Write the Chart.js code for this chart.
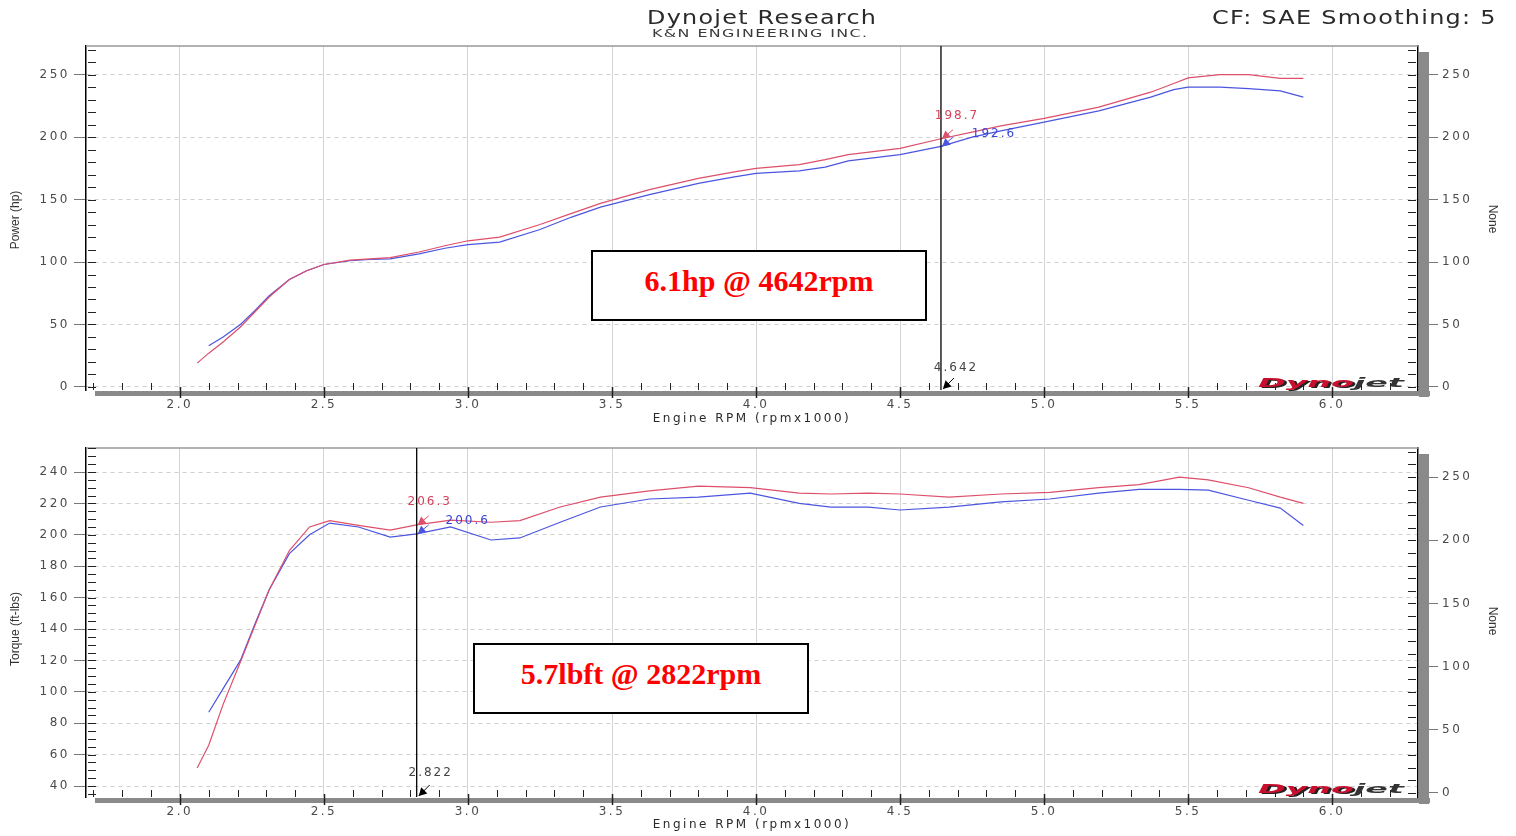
<!DOCTYPE html>
<html>
<head>
<meta charset="utf-8">
<title>Dynojet Research</title>
<script src="https://cdn.jsdelivr.net/npm/chart.js@4.4.1/dist/chart.umd.min.js"></script>
<style>
  body { margin: 0; background: #fff; font-family: "DejaVu Sans", sans-serif; }
  #page { position: relative; width: 1516px; height: 836px; overflow: hidden; background: #fff; }
  canvas { position: absolute; left: 0; }
  .txt { position: absolute; white-space: nowrap; color: #333; transform-origin: 0 50%; }
  .axis-title { position: absolute; white-space: nowrap; font-family: "Liberation Sans Narrow", "Liberation Sans", sans-serif; font-size: 12px; color: #333; transform: translate(-50%, -50%) rotate(-90deg); }
  .axis-title.right { transform: translate(-50%, -50%) rotate(90deg); }
  .diff { position: absolute; box-sizing: border-box; width: 336px; height: 71px; border: 2px solid #000; background: #fff;
          display: flex; align-items: center; justify-content: center; padding-bottom: 9px;
          font-family: "Liberation Serif", serif; font-weight: bold; font-size: 30px; color: #f00; }
  .logo { position: absolute; white-space: nowrap; font: italic bold 12px "DejaVu Sans", sans-serif; line-height: 12px; transform-origin: 0 50%; }
  .logo .a { color: #c8102e; text-shadow: 1px 1px 0 #222; }
  .logo .b { color: #333; }
</style>
</head>
<body>
<div id="page">
  <canvas id="power" width="1516" height="430" style="top:0"></canvas>
  <canvas id="torque" width="1516" height="406" style="top:430px"></canvas>

  <div class="txt" data-w="230" style="left:647px;top:7px;font-size:19px;line-height:20px;letter-spacing:1px;color:#2a2a2a">Dynojet Research</div>
  <div class="txt" data-w="216" style="left:652px;top:27px;font-size:11px;line-height:13px;letter-spacing:1px;color:#3a3a3a">K&amp;N ENGINEERING INC.</div>
  <div class="txt" data-w="285" style="left:1212px;top:7px;font-size:19px;line-height:20px;letter-spacing:1px;color:#2a2a2a">CF: SAE Smoothing: 5</div>

  <div class="axis-title" style="left:15px;top:220px">Power (hp)</div>
  <div class="axis-title right" style="left:1493px;top:219px">None</div>
  <div class="axis-title" style="left:15px;top:629px">Torque (ft-lbs)</div>
  <div class="axis-title right" style="left:1493px;top:621px">None</div>

  <div class="diff" style="left:591px;top:250px">6.1hp @ 4642rpm</div>
  <div class="diff" style="left:473px;top:643px">5.7lbft @ 2822rpm</div>

  <div class="logo" data-w="147" style="left:1258px;top:377px"><span class="a">Dyno</span><span class="b">jet</span></div>
  <div class="logo" data-w="147" style="left:1258px;top:783px"><span class="a">Dyno</span><span class="b">jet</span></div>
</div>

<script>
// tick labels
const rpmTicks = [2.0, 2.5, 3.0, 3.5, 4.0, 4.5, 5.0, 5.5, 6.0];
const powerTicks = [0, 50, 100, 150, 200, 250];
const torqueTicks = [40, 60, 80, 100, 120, 140, 160, 180, 200, 220, 240];
const noneTicks = [0, 50, 100, 150, 200, 250];

// power run (hp)
const powerRpm = [2.06, 2.10, 2.15, 2.21, 2.26, 2.31, 2.38, 2.44, 2.50, 2.59, 2.66, 2.73, 2.83, 2.92, 3.00,
  3.11, 3.25, 3.36, 3.46, 3.63, 3.80, 3.92, 4.00, 4.15, 4.24, 4.32, 4.50, 4.642, 4.75, 4.85, 5.00,
  5.19, 5.37, 5.45, 5.50, 5.61, 5.71, 5.82, 5.90];
const powerRed = [19, 27, 36, 48, 60, 72, 86, 93, 98, 101.5, 102.5, 103.5, 108, 113, 117,
  120, 130, 139, 147, 158, 167, 172, 175, 178, 182, 186, 191, 198.7, 204, 209, 215,
  224, 236, 243, 247.5, 250, 250, 247, 247];
const powerBlue = [null, 33, 40, 50, 61, 73, 86, 93, 98, 101, 102, 102.5, 106.5, 111, 114,
  116, 126, 136, 144, 154, 163, 168, 171, 173, 176, 181, 186, 192.6, 200, 205, 212,
  221, 232, 238, 240, 240, 238.8, 237, 232];

// torque run (ft-lbs)
const torqueRpm = [2.06, 2.10, 2.15, 2.21, 2.26, 2.31, 2.38, 2.45, 2.52, 2.62, 2.73, 2.822, 2.94, 3.08, 3.18,
  3.32, 3.46, 3.63, 3.80, 3.98, 4.15, 4.26, 4.39, 4.50, 4.67, 4.85, 5.02, 5.19, 5.33, 5.47,
  5.57, 5.71, 5.82, 5.90];
const torqueRed = [51.5, 66, 92, 119, 142, 165, 190, 205, 209, 206, 203, 206.3, 209.4, 208, 209,
  217.7, 224, 228, 231, 230, 226.6, 226, 226.6, 226, 224, 226, 227, 230, 232, 236.8,
  235, 230, 224, 220];
const torqueBlue = [null, 87, 102, 120, 143, 165, 188, 200, 207.5, 205, 198.6, 200.6, 205, 196.7, 198,
  208, 217.7, 222.8, 224, 226.6, 220, 217.7, 217.7, 215.8, 217.7, 221, 222.8, 226.6, 229, 229,
  228.5, 222, 217, 206];

const powerCursor = 4.642;
const torqueCursor = 2.822;

const redLine = "#dd4f6b";
const blueLine = "#4b55e0";

Chart.defaults.font.family = '"DejaVu Sans", sans-serif';

function ticksFrom(list) {
  return (scale) => {
    scale.ticks = list.map((value) => ({ value }));
  };
}

function arrow(ctx, x1, y1, x2, y2, color) {
  const ang = Math.atan2(y2 - y1, x2 - x1);
  ctx.strokeStyle = color;
  ctx.fillStyle = color;
  ctx.lineWidth = 1;
  ctx.beginPath();
  ctx.moveTo(x1, y1);
  ctx.lineTo(x2, y2);
  ctx.stroke();
  ctx.beginPath();
  ctx.moveTo(x2, y2);
  ctx.lineTo(x2 - 9 * Math.cos(ang - 0.5), y2 - 9 * Math.sin(ang - 0.5));
  ctx.lineTo(x2 - 9 * Math.cos(ang + 0.5), y2 - 9 * Math.sin(ang + 0.5));
  ctx.closePath();
  ctx.fill();
}

// frame, minor ticks and cursor readout
const dynoDecor = {
  id: "dynoDecor",
  beforeDraw(chart) {
    chart.ctx.letterSpacing = "2.5px";
  },
  afterDatasetsDraw(chart, args, opts) {
    const { ctx, chartArea: a, scales } = chart;
    const x = scales.x, yl = scales.y, yr = scales.y2;
    ctx.save();

    ctx.strokeStyle = "#999";
    ctx.lineWidth = 1.5;
    ctx.beginPath();
    ctx.moveTo(a.left, a.top);
    ctx.lineTo(a.right, a.top);
    ctx.stroke();

    ctx.fillStyle = "#8a8a8a";
    ctx.fillRect(a.left + 9, a.bottom + 1, a.right - a.left + 3, 5);
    ctx.fillRect(a.right + 1, a.top + 6, 10, a.bottom - a.top + 1);

    ctx.strokeStyle = "#222";
    ctx.lineWidth = 1;
    const each = (scale, step, fn) => {
      for (let i = Math.ceil(scale.min / step - 1e-6); i * step <= scale.max + 1e-6; i++) {
        fn(Math.round(scale.getPixelForValue(i * step)) + 0.5, i);
      }
    };
    ctx.beginPath();
    each(yl, opts.leftStep, (py) => { ctx.moveTo(a.left + 2, py); ctx.lineTo(a.left + 10, py); });
    each(yr, opts.rightStep, (py) => { ctx.moveTo(a.right - 10, py); ctx.lineTo(a.right - 2, py); });
    each(x, 0.1, (px, i) => {
      if (i % 5 === 0) return;
      ctx.moveTo(px, a.bottom - 7);
      ctx.lineTo(px, a.bottom);
    });
    ctx.stroke();
    ctx.lineWidth = 1.5;
    ctx.beginPath();
    each(x, 0.5, (px) => { ctx.moveTo(px, a.bottom - 3); ctx.lineTo(px, a.bottom + 8); });
    ctx.stroke();

    // cursor
    const cx = x.getPixelForValue(opts.cursor);
    ctx.strokeStyle = "#000";
    ctx.lineWidth = 1.3;
    ctx.beginPath();
    ctx.moveTo(cx, a.top);
    ctx.lineTo(cx, a.bottom);
    ctx.stroke();

    ctx.font = '12px "DejaVu Sans", sans-serif';
    ctx.letterSpacing = "2px";
    ctx.textAlign = "center";
    ctx.textBaseline = "middle";
    chart.data.datasets.forEach((ds, i) => {
      const pt = ds.data.find((p) => p.x === opts.cursor);
      const py = yl.getPixelForValue(pt.y);
      const [dx, dy] = opts.offsets[i];
      arrow(ctx, cx + 12, py - 9, cx + 1, py, ds.borderColor);
      ctx.fillStyle = opts.textColors[i];
      ctx.fillText(pt.y.toFixed(1), cx + dx, py + dy);
    });
    ctx.fillStyle = "#444";
    ctx.fillText(opts.cursor.toFixed(3), cx + opts.rpmLabel[0], a.bottom + opts.rpmLabel[1]);
    arrow(ctx, cx + 13, a.bottom - 12, cx + 2, a.bottom - 1, "#000");
    ctx.restore();
  },
};

function dynoChart(id, cfg) {
  const series = (vals, color) => ({
    data: cfg.rpm.map((x, i) => ({ x, y: vals[i] })),
    borderColor: color,
    borderWidth: 1.2,
    pointRadius: 0,
    tension: 0,
    fill: false,
  });
  return new Chart(document.getElementById(id), {
    type: "line",
    data: { datasets: [series(cfg.red, redLine), series(cfg.blue, blueLine)] },
    options: {
      responsive: false,
      animation: false,
      events: [],
      layout: { padding: { top: cfg.top, left: 0, right: 0, bottom: 0 } },
      scales: {
        x: {
          type: "linear",
          position: "bottom",
          min: 1.674,
          max: 6.298,
          afterFit: (s) => { s.height = cfg.xHeight; },
          afterBuildTicks: ticksFrom(rpmTicks),
          ticks: { callback: (v) => Number(v).toFixed(1), color: "#4a4a4a", font: { size: 12 }, padding: 8, maxRotation: 0, autoSkip: false },
          grid: { color: "#d4d4d4", drawTicks: false, lineWidth: 1 },
          border: { display: false },
          title: { display: true, text: "Engine RPM (rpmx1000)", color: "#2a2a2a", font: { size: 12 }, padding: { top: 0, bottom: 4 } },
        },
        y: {
          position: "left",
          min: cfg.leftMin,
          max: cfg.leftMax,
          afterFit: (s) => { s.width = 86; },
          afterBuildTicks: ticksFrom(cfg.leftTicks),
          ticks: { color: "#4a4a4a", font: { size: 12 }, padding: 4 },
          grid: { color: "#cfcfcf", tickColor: "#777", tickLength: 12, tickBorderDash: [] },
          border: { color: "#000", width: 1.5, dash: [4, 4] },
        },
        y2: {
          position: "right",
          min: cfg.rightMin,
          max: cfg.rightMax,
          afterFit: (s) => { s.width = 98; },
          afterBuildTicks: ticksFrom(noneTicks),
          ticks: { color: "#4a4a4a", font: { size: 12 }, padding: 4 },
          grid: { drawOnChartArea: false, tickColor: "#777", tickLength: 20 },
          border: { color: "#000", width: 1.5 },
        },
      },
      plugins: {
        legend: { display: false },
        tooltip: { enabled: false },
        dynoDecor: {
          cursor: cfg.cursor,
          leftStep: cfg.leftStep,
          rightStep: 10,
          offsets: cfg.offsets,
          rpmLabel: cfg.rpmLabel,
          textColors: ["#d8405a", "#3a45d8"],
        },
      },
    },
    plugins: [dynoDecor],
  });
}

dynoChart("power", {
  rpm: powerRpm, red: powerRed, blue: powerBlue,
  top: 46, xHeight: 40,
  leftMin: -2.5, leftMax: 273, leftTicks: powerTicks, leftStep: 10,
  rightMin: -2.5, rightMax: 273,
  cursor: powerCursor,
  offsets: [[16, -23], [53, -13]],
  rpmLabel: [15, -22],
});

dynoChart("torque", {
  rpm: torqueRpm, red: torqueRed, blue: torqueBlue,
  top: 18, xHeight: 39,
  leftMin: 33, leftMax: 255.3, leftTicks: torqueTicks, leftStep: 5,
  rightMin: -3.2, rightMax: 273,
  cursor: torqueCursor,
  offsets: [[13, -23], [51, -13]],
  rpmLabel: [14, -24],
});

// stretch the header texts to the reference widths
document.querySelectorAll("[data-w]").forEach((el) => {
  const w = Number(el.dataset.w);
  el.style.transform = `scaleX(${w / el.offsetWidth})`;
});
</script>
</body>
</html>
